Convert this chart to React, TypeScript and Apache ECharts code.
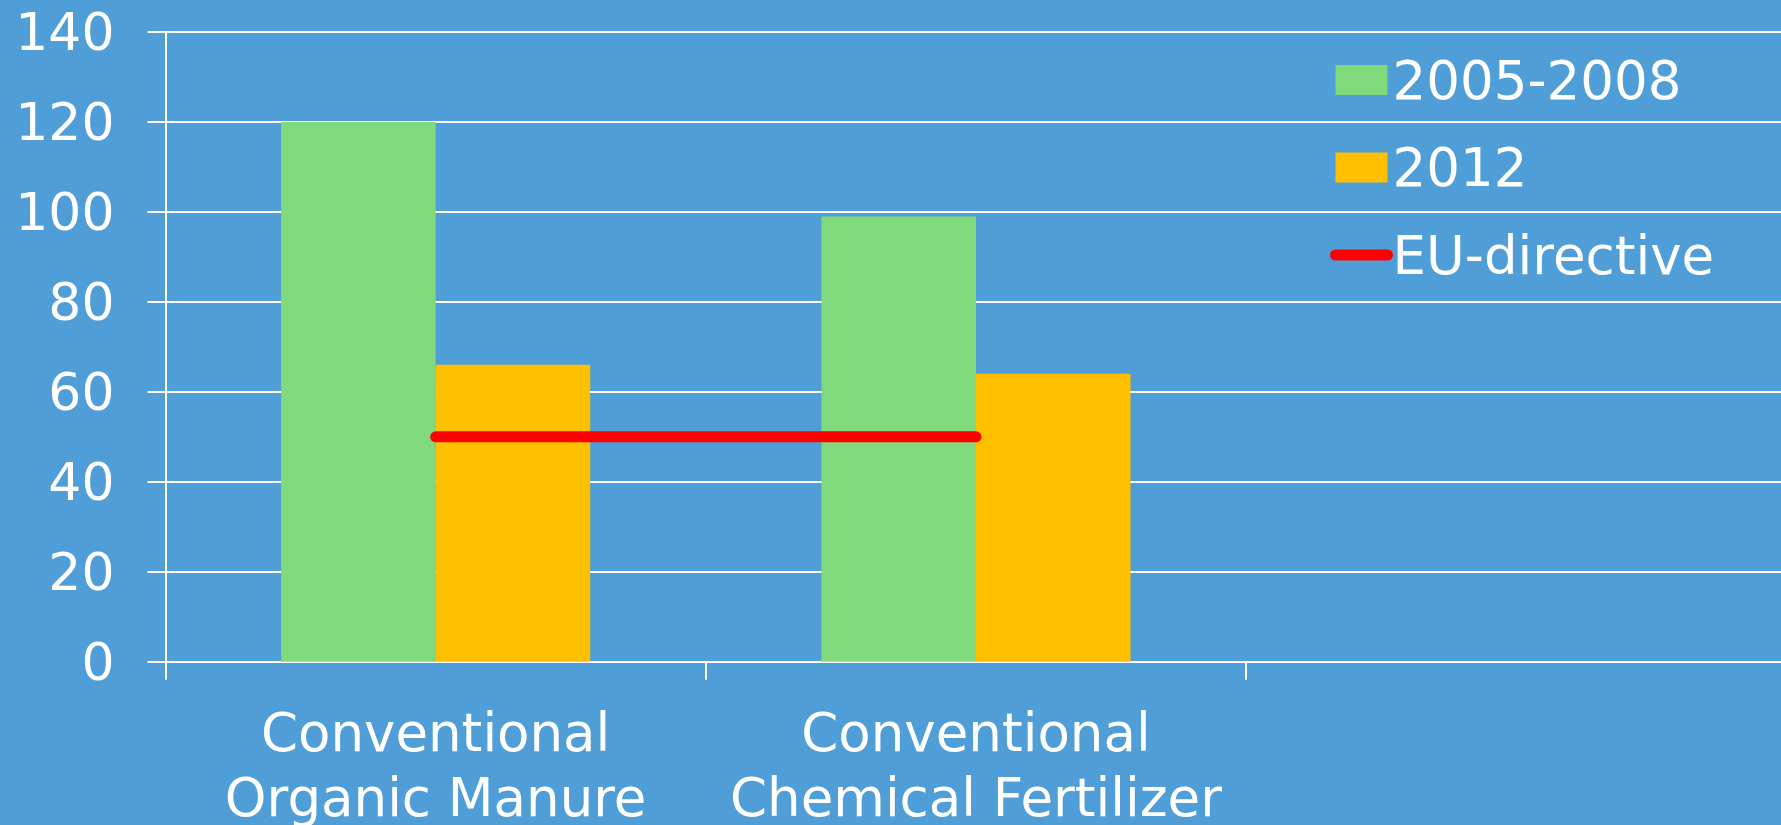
import React, { useEffect, useRef } from "react";
import * as echarts from "echarts";

const categories = ["Conventional\nOrganic Manure", "Conventional\nChemical Fertilizer", ""];
const period1 = [120, 99, null];
const period2 = [66, 64, null];
const euDirective = [50, 50, null];
const seriesNames = ["2005-2008", "2012", "EU-directive"];

const FONT = "'DejaVu Sans', Verdana, sans-serif";

export default function App() {
  const ref = useRef<HTMLDivElement>(null);
  useEffect(() => {
    document.body.style.margin = "0";
    document.body.style.overflow = "hidden";
    document.documentElement.style.overflow = "hidden";
    if (!ref.current) return;
    const chart = echarts.init(ref.current, undefined, { renderer: "svg" });
    chart.setOption({
      animation: false,
      backgroundColor: "#4F9ED7",
      textStyle: { fontFamily: FONT, color: "#fff" },
      grid: {
        left: 165.5,
        top: 32,
        width: 1621,
        height: 629.7,
        containLabel: false,
        outerBoundsMode: "none",
      },
      legend: {
        orient: "vertical",
        left: 1330,
        top: 53.5,
        padding: 0,
        itemWidth: 52,
        itemHeight: 30,
        itemGap: 34.5,
        align: "left",
        textStyle: { color: "#fff", fontSize: 53, fontFamily: FONT, lineHeight: 53 },
        data: [
          { name: seriesNames[0], icon: "rect" },
          { name: seriesNames[1], icon: "rect" },
          { name: seriesNames[2], itemStyle: { opacity: 0 }, lineStyle: { width: 11, cap: "round", color: "#FF0000" } },
        ],
      },
      xAxis: {
        type: "category",
        data: categories,
        axisLine: { show: true, lineStyle: { color: "#fff", width: 2 } },
        axisTick: { show: true, length: 18, lineStyle: { color: "#fff", width: 2 } },
        axisLabel: {
          color: "#fff",
          fontSize: 53,
          fontFamily: FONT,
          lineHeight: 65.5,
          margin: 38,
          interval: 0,
        },
        splitLine: { show: false },
      },
      yAxis: {
        type: "value",
        min: 0,
        max: 140,
        interval: 20,
        axisLine: { show: true, lineStyle: { color: "#fff", width: 2 } },
        axisTick: { show: true, length: 18, lineStyle: { color: "#fff", width: 2 } },
        axisLabel: { color: "#fff", fontSize: 52, fontFamily: FONT, margin: 51 },
        splitLine: { show: true, lineStyle: { color: "#fff", width: 2 } },
      },
      series: [
        {
          name: seriesNames[0],
          type: "bar",
          data: period1,
          barGap: "0%",
          barCategoryGap: "42.8%",
          itemStyle: { color: "#80DA7C" },
        },
        {
          name: seriesNames[1],
          type: "bar",
          data: period2,
          barGap: "0%",
          barCategoryGap: "42.8%",
          itemStyle: { color: "#FFC000" },
        },
        {
          name: seriesNames[2],
          type: "line",
          data: euDirective,
          symbol: "none",
          showSymbol: false,
          lineStyle: { color: "#FF0000", width: 11, cap: "round" },
          itemStyle: { color: "#FF0000" },
          z: 5,
        },
      ],
    });
    return () => chart.dispose();
  }, []);
  return <div ref={ref} style={{ width: 1781, height: 825 }} />;
}
